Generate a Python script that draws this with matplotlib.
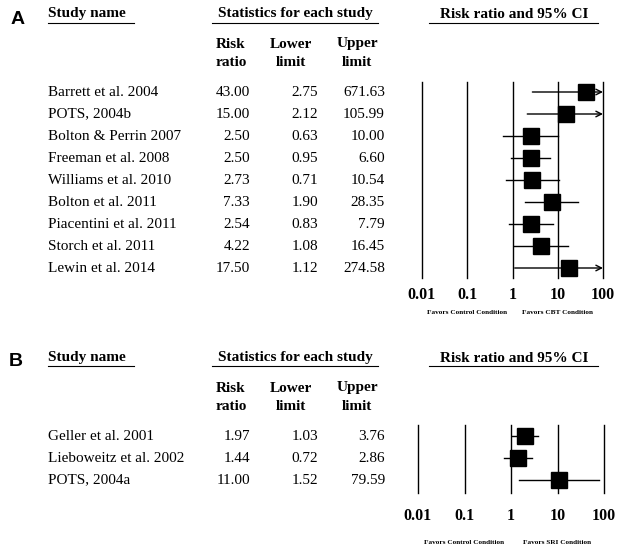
import matplotlib
matplotlib.use("Agg")
import matplotlib.pyplot as plt
from matplotlib.transforms import blended_transform_factory

plt.rcParams['font.family'] = ['Liberation Serif', 'DejaVu Serif']

# panel A - CBT vs control
studies_a = ["Barrett et al. 2004", "POTS, 2004b", "Bolton & Perrin 2007", "Freeman et al. 2008",
             "Williams et al. 2010", "Bolton et al. 2011", "Piacentini et al. 2011",
             "Storch et al. 2011", "Lewin et al. 2014"]
rr_a = [43.00, 15.00, 2.50, 2.50, 2.73, 7.33, 2.54, 4.22, 17.50]
lower_a = [2.75, 2.12, 0.63, 0.95, 0.71, 1.90, 0.83, 1.08, 1.12]
upper_a = [671.63, 105.99, 10.00, 6.60, 10.54, 28.35, 7.79, 16.45, 274.58]

# panel B - SRI vs control
studies_b = ["Geller et al. 2001", "Lieboweitz et al. 2002", "POTS, 2004a"]
rr_b = [1.97, 1.44, 11.00]
lower_b = [1.03, 0.72, 1.52]
upper_b = [3.76, 2.86, 79.59]

ticks = [0.01, 0.1, 1, 10, 100]
tick_labels = ["0.01", "0.1", "1", "10", "100"]

W, H = 621, 551
ROW = 22
FS = 11

fig = plt.figure(figsize=(W / 100, H / 100), dpi=100)
bg = fig.add_axes([0, 0, 1, 1])
bg.set_xlim(0, W)
bg.set_ylim(H, 0)
bg.axis('off')


def header(y_text, y_line, letter, letter_x, letter_y):
    bg.text(letter_x, letter_y, letter, fontfamily=['Liberation Sans', 'DejaVu Sans'],
            fontweight='bold', fontsize=14, ha='left', va='center')
    bg.text(48, y_text, "Study name", fontweight='bold', fontsize=FS, ha='left', va='center')
    bg.plot([48, 134], [y_line, y_line], color='black', lw=0.8)
    bg.text(295, y_text, "Statistics for each study", fontweight='bold', fontsize=FS,
            ha='center', va='center')
    bg.plot([212, 378], [y_line, y_line], color='black', lw=0.8)
    bg.text(514, y_text, "Risk ratio and 95% CI", fontweight='bold', fontsize=FS,
            ha='center', va='center')
    bg.plot([429, 598], [y_line, y_line], color='black', lw=0.8)


def columns(y_top):
    for x, (a, b) in zip([231, 291, 357], [("Risk", "ratio"), ("Lower", "limit"), ("Upper", "limit")]):
        bg.text(x, y_top, a, fontweight='bold', fontsize=FS, ha='center', va='center')
        bg.text(x, y_top + 19, b, fontweight='bold', fontsize=FS, ha='center', va='center')


def table(y0, names, rr, lo, hi):
    for i in range(len(names)):
        y = y0 + i * ROW
        bg.text(48, y, names[i], fontsize=FS, ha='left', va='center')
        bg.text(250, y, f"{rr[i]:.2f}", fontsize=FS, ha='right', va='center')
        bg.text(318, y, f"{lo[i]:.2f}", fontsize=FS, ha='right', va='center')
        bg.text(385, y, f"{hi[i]:.2f}", fontsize=FS, ha='right', va='center')


def forest(left, right, top, bottom, y0, rr, lo, hi, tick_y, fav_y, fav_right):
    fax = fig.add_axes([left / W, 1 - bottom / H, (right - left) / W, (bottom - top) / H])
    fax.set_xscale('log')
    fax.set_xlim(0.01, 100)
    fax.set_ylim((bottom - y0) / ROW, -(y0 - top) / ROW)
    fax.axis('off')
    for t in ticks:
        fax.axvline(t, color='black', lw=1, clip_on=False)
    for i in range(len(rr)):
        x0 = max(lo[i], 0.01)
        if hi[i] > 100:
            fax.annotate('', xy=(100, i), xytext=(x0, i),
                         arrowprops=dict(arrowstyle='->', color='black', lw=1,
                                         shrinkA=0, shrinkB=0, mutation_scale=10),
                         annotation_clip=False)
        else:
            fax.plot([x0, hi[i]], [i, i], color='black', lw=1, clip_on=False)
        fax.plot(rr[i], i, marker='s', ms=11.5, color='black', clip_on=False)
    tr = blended_transform_factory(fax.transData, bg.transData)
    for t, lab in zip(ticks, tick_labels):
        fax.text(t, tick_y, lab, transform=tr, fontweight='bold', fontsize=11.5,
                 ha='center', va='center')
    fax.text(0.1, fav_y, "Favors Control Condition", transform=tr, fontweight='bold',
             fontsize=5.2, ha='center', va='center')
    fax.text(10, fav_y, fav_right, transform=tr, fontweight='bold',
             fontsize=5.2, ha='center', va='center')


# panel A
header(14, 23, "A", 11, 19)
columns(44)
table(92, studies_a, rr_a, lower_a, upper_a)
forest(422, 603, 82, 278, 92, rr_a, lower_a, upper_a, 295, 312, "Favors CBT Condition")

# panel B
header(358, 366, "B", 9, 361)
columns(388)
table(436, studies_b, rr_b, lower_b, upper_b)
forest(418, 604, 425, 493, 436, rr_b, lower_b, upper_b, 516, 542, "Favors SRI Condition")

fig.savefig("out.png", dpi=100)
